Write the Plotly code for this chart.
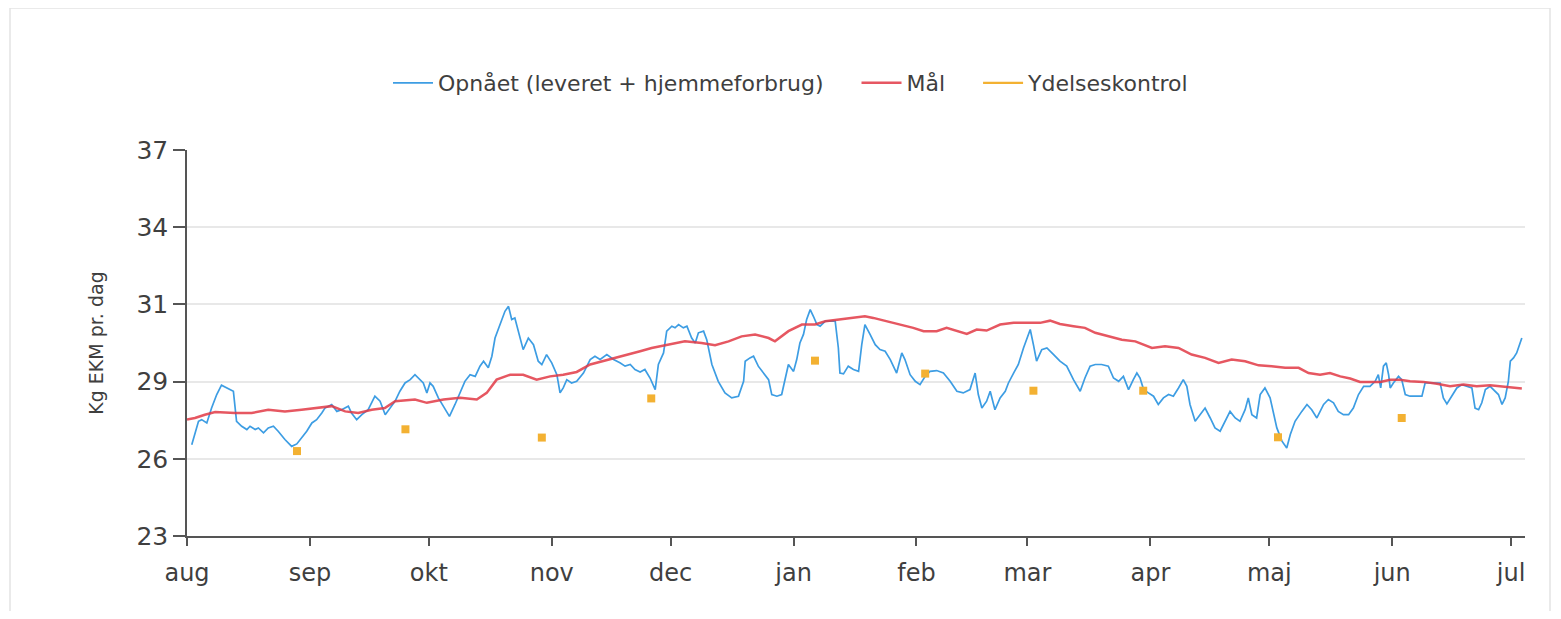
import plotly.graph_objects as go
import pandas as pd

season_start = "2018-08-01"

# Opnået (leveret + hjemmeforbrug): day since 1 Aug, kg EKM per day
blue_days = [1.2, 2.9, 3.7, 5.0, 6.2, 7.5, 8.7, 10.0, 11.7, 12.5, 13.8, 15.1, 15.9, 17.2, 18.0, 19.3, 20.5, 21.8, 23.0, 24.7,
             26.4, 27.7, 28.9, 30.2, 31.5, 32.7, 34.0, 34.8, 36.5, 37.8, 39.0, 40.7, 41.5, 42.8, 44.1, 45.7, 47.4, 48.7, 50.0, 51.2,
             52.5, 53.7, 55.0, 56.3, 57.5, 59.6, 60.5, 61.3, 62.1, 63.4, 64.7, 66.2, 67.6, 68.9, 70.1, 71.4, 72.7, 73.9, 74.8, 76.0,
             76.9, 77.7, 79.0, 80.2, 81.1, 81.9, 82.7, 83.6, 84.8, 86.1, 87.4, 88.6, 89.5, 90.7, 92.0, 93.3, 94.1, 94.9, 95.8, 97.0,
             98.3, 100.0, 101.7, 102.9, 104.2, 105.9, 107.6, 109.2, 110.5, 111.8, 113.0, 114.3, 115.5, 116.8, 118.1, 118.9, 120.2, 121.0, 122.3, 123.1,
             124.0, 125.2, 126.1, 127.3, 128.2, 129.0, 130.3, 131.1, 132.4, 134.0, 135.7, 137.4, 139.1, 140.4, 140.8, 142.0, 142.9, 144.1, 145.4, 146.7,
             147.5, 148.8, 150.0, 150.9, 151.7, 153.0, 153.8, 154.6, 155.5, 156.3, 157.2, 158.0, 158.9, 159.7, 161.0, 162.6, 163.5, 164.3, 164.7, 165.6,
             166.8, 168.1, 169.4, 170.2, 171.0, 172.3, 173.6, 174.8, 176.1, 177.4, 179.0, 180.3, 181.1, 182.4, 183.7, 184.9, 186.2, 187.4, 189.1, 190.8,
             192.5, 194.2, 195.8, 197.5, 198.8, 199.6, 200.5, 201.7, 202.6, 203.8, 205.1, 206.4, 207.2, 208.5, 209.7, 211.0, 212.7, 213.5, 214.3, 215.6,
             216.9, 218.6, 220.2, 221.9, 223.6, 225.3, 226.5, 227.8, 229.1, 230.7, 232.4, 233.7, 235.0, 236.2, 237.5, 238.7, 239.6, 240.4, 241.3, 242.5,
             243.8, 245.0, 246.3, 247.6, 248.8, 250.1, 251.3, 252.2, 253.0, 254.3, 255.6, 256.8, 258.1, 259.3, 260.6, 261.9, 263.1, 264.4, 265.6, 266.9,
             267.7, 268.6, 269.8, 270.7, 271.9, 273.2, 274.0, 274.9, 276.2, 277.4, 278.3, 279.5, 281.2, 282.5, 283.7, 285.0, 286.7, 287.9, 289.2, 290.4,
             291.7, 293.0, 294.2, 295.5, 296.8, 298.4, 299.7, 300.5, 301.1, 301.8, 302.5, 303.1, 303.5, 304.3, 305.6, 306.4, 307.3, 308.5, 310.2, 311.5,
             312.3, 313.6, 314.8, 316.1, 316.9, 317.8, 319.0, 320.3, 321.6, 322.8, 324.1, 324.9, 325.8, 326.6, 327.5, 328.7, 330.0, 330.8, 331.7, 332.5,
             333.3, 333.8, 334.6, 335.4, 336.7]
blue_vals = [26.31, 27.16, 27.22, 27.10, 27.64, 28.13, 28.47, 28.37, 28.25, 27.16, 26.98, 26.86, 26.98, 26.86, 26.92, 26.74, 26.92, 26.98, 26.80, 26.50,
             26.25, 26.34, 26.56, 26.80, 27.10, 27.22, 27.46, 27.64, 27.77, 27.52, 27.58, 27.71, 27.46, 27.22, 27.40, 27.58, 28.07, 27.89, 27.40, 27.64,
             27.89, 28.25, 28.55, 28.67, 28.85, 28.55, 28.19, 28.55, 28.43, 28.01, 27.71, 27.34, 27.77, 28.19, 28.61, 28.85, 28.79, 29.16, 29.34, 29.10,
             29.52, 30.18, 30.67, 31.15, 31.33, 30.85, 30.91, 30.43, 29.76, 30.18, 29.94, 29.34, 29.22, 29.58, 29.28, 28.85, 28.19, 28.37, 28.67, 28.55,
             28.61, 28.91, 29.40, 29.52, 29.40, 29.58, 29.40, 29.28, 29.16, 29.22, 29.04, 28.95, 29.04, 28.73, 28.31, 29.22, 29.64, 30.43, 30.61, 30.55,
             30.67, 30.55, 30.61, 30.18, 30.00, 30.37, 30.43, 30.12, 29.22, 28.61, 28.19, 28.01, 28.07, 28.61, 29.34, 29.46, 29.52, 29.16, 28.91, 28.67,
             28.13, 28.07, 28.13, 28.73, 29.22, 28.97, 29.40, 30.00, 30.31, 30.85, 31.21, 30.97, 30.67, 30.61, 30.79, 30.79, 30.79, 29.82, 28.91, 28.88,
             29.16, 29.04, 28.97, 29.94, 30.67, 30.31, 29.94, 29.76, 29.70, 29.40, 28.91, 29.64, 29.40, 28.85, 28.61, 28.49, 28.79, 28.97, 29.00, 28.91,
             28.61, 28.25, 28.19, 28.31, 28.91, 28.13, 27.64, 27.89, 28.25, 27.58, 28.01, 28.25, 28.55, 28.91, 29.22, 29.82, 30.49, 29.94, 29.34, 29.76,
             29.82, 29.58, 29.34, 29.16, 28.67, 28.25, 28.73, 29.16, 29.22, 29.22, 29.16, 28.73, 28.61, 28.79, 28.31, 28.67, 28.91, 28.73, 28.31, 28.19,
             28.07, 27.77, 28.01, 28.13, 28.07, 28.37, 28.67, 28.43, 27.77, 27.16, 27.40, 27.64, 27.28, 26.92, 26.80, 27.16, 27.52, 27.28, 27.16, 27.58,
             28.01, 27.40, 27.28, 28.13, 28.37, 28.01, 27.52, 26.92, 26.44, 26.19, 26.68, 27.16, 27.52, 27.77, 27.58, 27.28, 27.77, 27.95, 27.83, 27.52,
             27.40, 27.40, 27.64, 28.13, 28.43, 28.43, 28.61, 28.85, 28.37, 29.16, 29.28, 28.85, 28.37, 28.55, 28.79, 28.67, 28.13, 28.07, 28.07, 28.07,
             28.55, 28.55, 28.55, 28.55, 28.01, 27.79, 28.07, 28.37, 28.49, 28.43, 28.37, 27.64, 27.58, 27.83, 28.31, 28.43, 28.25, 28.13, 27.77, 28.01,
             28.61, 29.34, 29.46, 29.64, 30.18]

# Mål (target)
red_days = [0.0, 2.0, 4.5, 7.1, 12.1, 16.3, 20.5, 24.7, 28.9, 33.1, 36.5, 39.9, 43.2, 46.6, 49.9, 52.5, 55.0, 57.5, 60.5, 64.7,
            68.9, 73.1, 75.6, 78.1, 81.5, 84.8, 88.2, 91.6, 94.9, 98.3, 101.7, 105.0, 108.4, 111.8, 114.3, 117.2, 121.4, 125.6, 129.8, 133.2,
            136.6, 139.9, 143.3, 146.7, 148.3, 151.7, 155.1, 158.4, 161.0, 164.3, 167.7, 171.0, 173.1, 176.5, 179.9, 183.2, 185.8, 189.1, 191.6, 194.2,
            196.7, 199.2, 201.7, 205.1, 208.5, 211.8, 215.2, 217.7, 220.2, 223.6, 226.5, 229.1, 232.4, 235.8, 239.2, 243.4, 246.7, 250.1, 253.4, 256.8,
            260.2, 263.5, 266.9, 270.3, 273.6, 277.0, 280.4, 282.9, 285.8, 288.3, 290.9, 293.4, 295.9, 298.4, 301.0, 303.5, 306.0, 308.5, 311.9, 315.3,
            318.6, 322.0, 325.3, 328.7, 332.1, 334.6, 336.7]
red_vals = [27.22, 27.28, 27.40, 27.50, 27.46, 27.46, 27.58, 27.52, 27.58, 27.64, 27.71, 27.52, 27.46, 27.58, 27.64, 27.89, 27.91, 27.95, 27.83, 27.95,
            28.01, 27.95, 28.19, 28.67, 28.85, 28.85, 28.67, 28.79, 28.85, 28.95, 29.22, 29.34, 29.46, 29.60, 29.70, 29.82, 29.94, 30.06, 30.00, 29.92,
            30.06, 30.24, 30.31, 30.18, 30.06, 30.43, 30.67, 30.67, 30.79, 30.85, 30.91, 30.97, 30.91, 30.79, 30.67, 30.55, 30.43, 30.43, 30.55, 30.43,
            30.33, 30.49, 30.45, 30.67, 30.73, 30.73, 30.73, 30.81, 30.69, 30.61, 30.55, 30.37, 30.24, 30.12, 30.06, 29.82, 29.88, 29.82, 29.58, 29.46,
            29.28, 29.40, 29.34, 29.19, 29.16, 29.10, 29.10, 28.91, 28.85, 28.91, 28.79, 28.71, 28.59, 28.59, 28.59, 28.67, 28.67, 28.61, 28.59, 28.52,
            28.43, 28.49, 28.43, 28.47, 28.43, 28.39, 28.35]

# Ydelseskontrol (milk recording)
check_days = [27.75, 55.1, 89.5, 117.1, 158.4, 186.2, 213.5, 241.2, 275.2, 306.4]
check_vals = [26.08, 26.87, 26.57, 27.99, 29.36, 28.89, 28.27, 28.27, 26.58, 27.28]

month_labels = ["aug", "sep", "okt", "nov", "dec", "jan", "feb", "mar", "apr", "maj", "jun", "jul"]
ytick_vals = [23, 25.8, 28.6, 31.4, 34.2, 37]
ytick_text = ["23", "26", "29", "31", "34", "37"]
x_end_day = 337.5

base = pd.Timestamp(season_start)


def to_dates(days):
    return [base + pd.Timedelta(days=d) for d in days]


month_ticks = pd.date_range(season_start, periods=len(month_labels), freq="MS")

BLUE = "#3d9de3"
RED = "#e23a46"
ORANGE = "#f3b132"
FONT = "DejaVu Sans"
TXT = "#3f3f3f"
PAD = "\u00a0\u00a0\u00a0\u00a0"

fig = go.Figure()
fig.add_trace(go.Scatter(x=to_dates(blue_days), y=blue_vals, mode="lines",
                         name="Opnået (leveret + hjemmeforbrug)" + PAD,
                         line=dict(color=BLUE, width=1.7)))
fig.add_trace(go.Scatter(x=to_dates(red_days), y=red_vals, mode="lines", name="Mål" + PAD,
                         line=dict(color=RED, width=2.5), opacity=0.85))
fig.add_trace(go.Scatter(x=to_dates(check_days), y=check_vals, mode="markers", name="Ydelseskontrol",
                         showlegend=False,
                         marker=dict(color=ORANGE, size=8, symbol="square")))
fig.add_trace(go.Scatter(x=[None], y=[None], mode="lines", name="Ydelseskontrol",
                         line=dict(color=ORANGE, width=2.2)))

# page offset of 8 px (body margin) is compensated below
OFF = 8
W, H = 1545, 603
L, T = 187 - OFF, 150 - OFF
R = W - (1525 - OFF)
B = H - (536 - OFF)
pw, ph = W - L - R, H - T - B


def px(xr):
    return (xr - OFF - L) / pw


def py(yr):
    return (H - B - (yr - OFF)) / ph


fig.add_shape(type="rect", xref="paper", yref="paper",
              x0=px(10), x1=px(1550), y0=py(612), y1=py(8),
              line=dict(color="#e4e4e4", width=1.5), fillcolor="rgba(0,0,0,0)", layer="below")

fig.update_layout(
    width=W, height=H, autosize=False,
    margin=dict(l=L, r=R, t=T, b=B),
    paper_bgcolor="white", plot_bgcolor="white",
    font=dict(family=FONT, color=TXT),
    showlegend=True,
    legend=dict(orientation="h", x=px(791), xanchor="center",
                y=py(83), yanchor="middle",
                font=dict(size=22, family=FONT, color=TXT),
                itemwidth=40, bgcolor="rgba(0,0,0,0)"),
    xaxis=dict(type="date",
               range=[base, base + pd.Timedelta(days=x_end_day)],
               tickvals=month_ticks, ticktext=month_labels,
               showline=True, linecolor="#555555", linewidth=1.5,
               ticks="outside", ticklen=8, tickcolor="#555555", tickwidth=1.5,
               showgrid=False, zeroline=False,
               tickfont=dict(size=24, family=FONT, color=TXT),
               ticklabelstandoff=6),
    yaxis=dict(range=[23, 37], tickvals=ytick_vals, ticktext=ytick_text,
               showline=True, linecolor="#555555", linewidth=1.5,
               ticks="outside", ticklen=12, tickcolor="#555555", tickwidth=1.5,
               showgrid=True, gridcolor="#e8e8e8", gridwidth=1.5, zeroline=False,
               tickfont=dict(size=25, family=FONT, color=TXT),
               title=dict(text="Kg EKM pr. dag", font=dict(size=19, family=FONT, color=TXT),
                          standoff=28)),
)

fig.write_html("out.html")
